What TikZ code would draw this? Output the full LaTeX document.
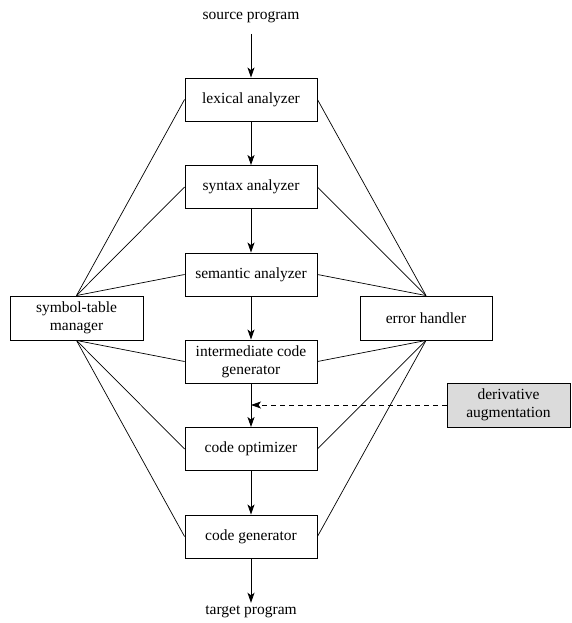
\documentclass[tikz,border=0pt]{standalone}
\usepackage{fontspec}
\setmainfont{Liberation Serif}
\usetikzlibrary{arrows.meta}
\begin{document}
\begin{tikzpicture}[x=1pt,y=-1pt,
  every node/.style={font=\fontsize{15.5}{18}\selectfont},
  phase/.style={draw, line width=0.9pt, minimum width=132pt, minimum height=43pt,
    align=center, inner sep=2pt},
  side/.style={phase, minimum width=133pt, minimum height=44pt},
  flow/.style={line width=0.9pt, -{Stealth[length=10pt,width=7pt,inset=2.5pt]}},
  link/.style={line width=0.7pt},
  hint/.style={line width=0.7pt, dashed, dash pattern=on 5pt off 4pt,
    -{Stealth[length=10pt,width=7pt,inset=2.5pt]}}]
\useasboundingbox (0,0) rectangle (571,623);

% compiler phases
\node[inner sep=3pt] (src) at (251,17) {source program};
\node[phase] (lex) at (251,99.5)  {lexical analyzer};
\node[phase] (syn) at (251,187)   {syntax analyzer};
\node[phase] (sem) at (251,274.5) {semantic analyzer};
\node[phase] (icg) at (251,361.5) {intermediate code\\generator};
\node[phase] (opt) at (251,449)   {code optimizer};
\node[phase] (gen) at (251,536.5) {code generator};
\node[inner sep=3pt] (tgt) at (251,612) {target program};

% side components
\node[side] (sym) at (76.5,318) {symbol-table\\manager};
\node[side, minimum width=132pt] (err) at (426,318) {error handler};
\node[side, minimum width=123pt, fill=black!14] (der) at (508.5,405) {derivative\\augmentation};

% main pipeline
\draw[flow, shorten <=8pt] (src) -- (lex);
\draw[flow] (lex) -- (syn);
\draw[flow] (syn) -- (sem);
\draw[flow] (sem) -- (icg);
\draw[flow] (icg) -- (opt);
\draw[flow] (gen) -- (tgt);
\draw[flow] (opt) -- (gen);

% injection point of the augmentation pass
\coordinate (inj) at (icg.south |- der.west);
\draw[hint] (der.west) -- (inj);

% symbol-table links
\foreach \p in {lex,syn,sem} \draw[link] (sym.north) -- (\p.west);
\foreach \p in {icg,opt,gen} \draw[link] (sym.south) -- (\p.west);

% error-handler links
\foreach \p in {lex,syn,sem} \draw[link] (err.north) -- (\p.east);
\foreach \p in {icg,opt,gen} \draw[link] (err.south) -- (\p.east);
\end{tikzpicture}
\end{document}
